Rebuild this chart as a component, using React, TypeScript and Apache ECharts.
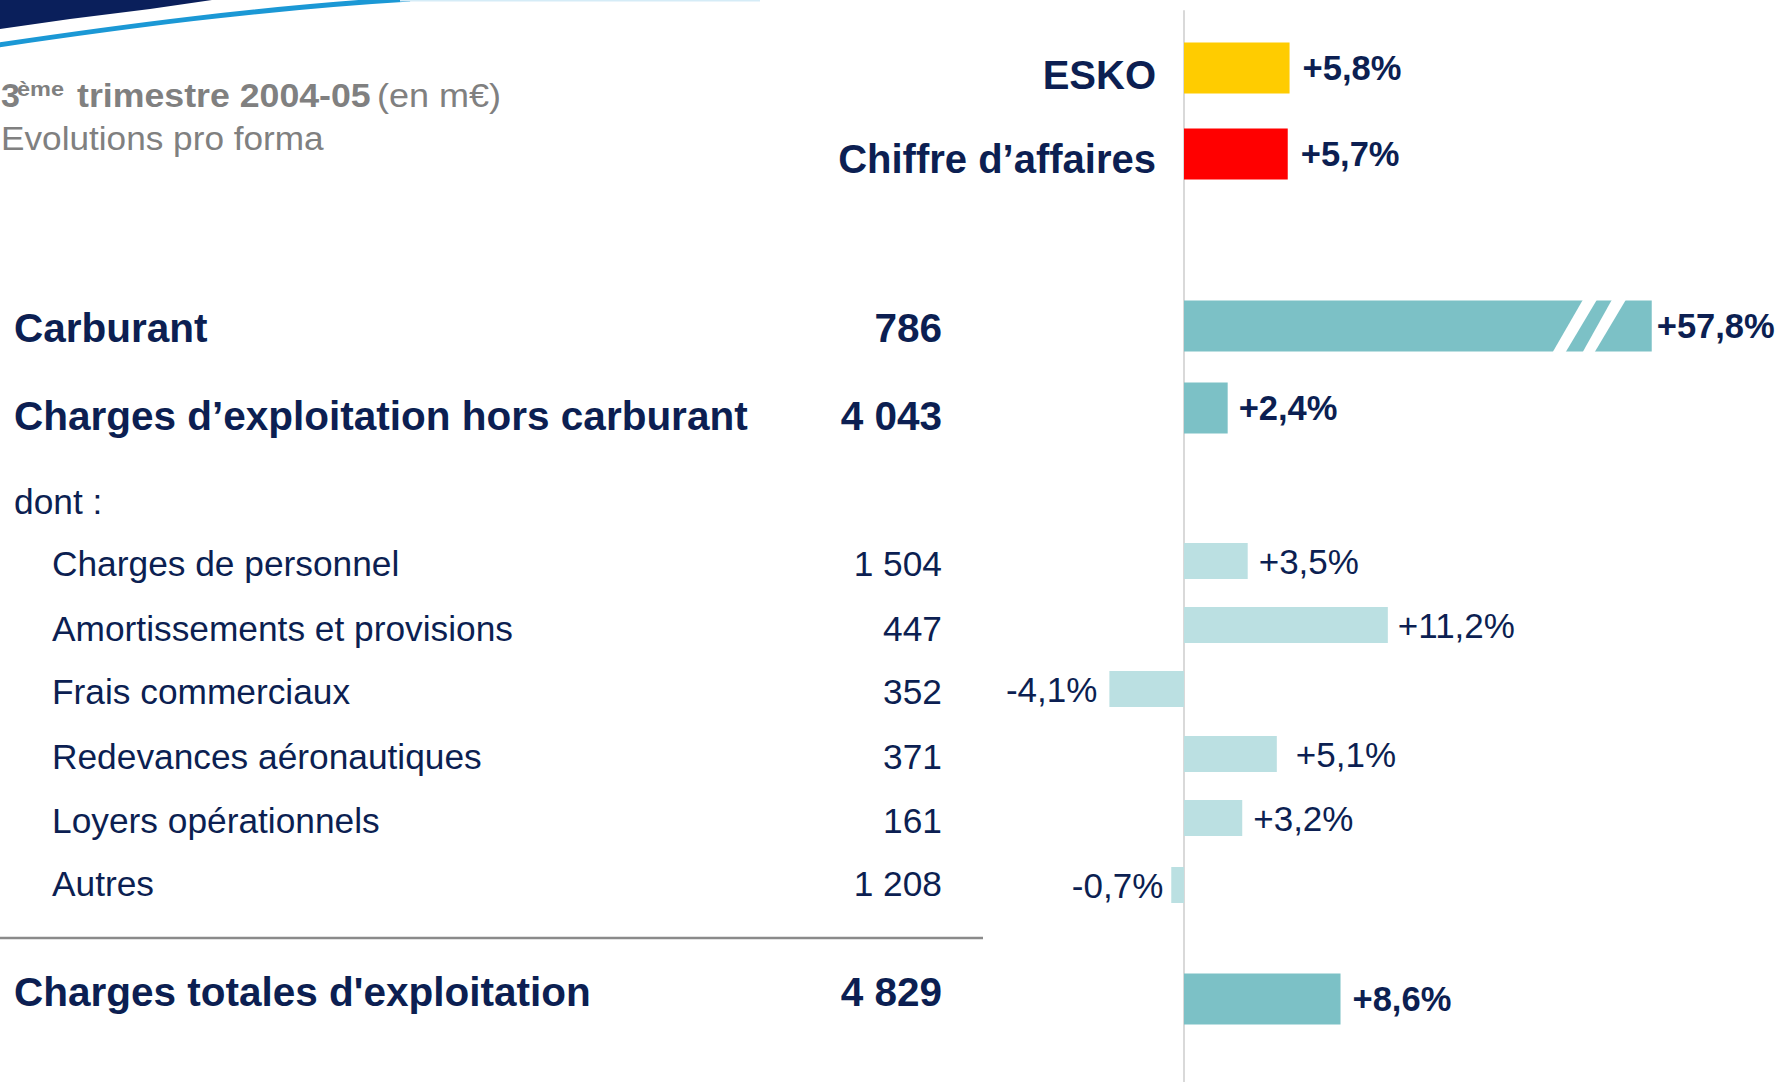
import React, { useEffect, useRef } from "react";
import * as echarts from "echarts";

// ---------- data ----------
const CATEGORIES = [
  "ESKO",
  "Chiffre d’affaires",
  "Carburant",
  "Charges d’exploitation hors carburant",
  "Charges de personnel",
  "Amortissements et provisions",
  "Frais commerciaux",
  "Redevances aéronautiques",
  "Loyers opérationnels",
  "Autres",
  "Charges totales d'exploitation",
];
const AMOUNTS = ["", "", "786", "4 043", "1 504", "447", "352", "371", "161", "1 208", "4 829"];
const CHANGES = [5.8, 5.7, 57.8, 2.4, 3.5, 11.2, -4.1, 5.1, 3.2, -0.7, 8.6];
const SUBHEADING = "dont :";
const TITLE_NUM = "3";
const TITLE_SUP = "ème";
const TITLE_BOLD = "trimestre 2004-05";
const TITLE_UNIT = "(en m€)";
const SUBTITLE = "Evolutions pro forma";
const BREAK_AT = 25.7; // the broken bar is drawn up to this value

// ---------- layout / style ----------
const KIND = ["legend", "legend", "main", "main", "sub", "sub", "sub", "sub", "sub", "sub", "main"];
const ROW_CENTER = [68, 154, 326, 408, 561, 625, 689, 754, 818, 885, 999];
const ROW_HEIGHT = [51, 51, 51, 51, 36, 36, 36, 36, 36, 36, 51];
const TEXT_CENTER = [75, 159, 328, 416, 563, 628, 691, 756, 820, 883, 992];
const LABEL_DIST = [13, 13, 5, 11, 11, 10, 12, 19, 11, 8, 12];
const BAR_COLOR = ["#ffcc00", "#ff0000", "#7cc1c6", "#7cc1c6", "#bbe0e2", "#bbe0e2", "#bbe0e2", "#bbe0e2", "#bbe0e2", "#bbe0e2", "#7cc1c6"];
const NAVY = "#0c1f52";
const GRAY = "#808080";
const FONT = "'Liberation Sans', Arial, Helvetica, sans-serif";
const X_MIN = -10;
const X_MAX = 30;
const GRID_LEFT = 1002;
const GRID_WIDTH = 728;

const fmt = (v: number) => (v > 0 ? "+" : "") + v.toFixed(1).replace(".", ",") + "%";

export default function App() {
  const ref = useRef<HTMLDivElement>(null);

  useEffect(() => {
    if (!ref.current) return;
    const chart = echarts.init(ref.current, undefined, { renderer: "svg" });

    const grids: any[] = [];
    const xAxes: any[] = [];
    const yAxes: any[] = [];
    const series: any[] = [];

    CATEGORIES.forEach((cat, i) => {
      const h = ROW_HEIGHT[i];
      grids.push({ left: GRID_LEFT, width: GRID_WIDTH, top: ROW_CENTER[i] - h / 2, height: h });
      xAxes.push({ gridIndex: i, type: "value", min: X_MIN, max: X_MAX, show: false });
      yAxes.push({ gridIndex: i, type: "category", data: [cat], show: false });
      const v = CHANGES[i];
      const bold = KIND[i] !== "sub";
      series.push({
        type: "bar",
        xAxisIndex: i,
        yAxisIndex: i,
        barWidth: h,
        silent: true,
        z: 3,
        data: [{ value: Math.min(v, BREAK_AT), itemStyle: { color: BAR_COLOR[i] } }],
        label: {
          show: true,
          position: v >= 0 ? "right" : "left",
          distance: LABEL_DIST[i],
          formatter: () => fmt(v),
          color: NAVY,
          fontFamily: FONT,
          fontSize: bold ? 34.5 : 35,
          fontWeight: bold ? "bold" : "normal",
        },
      });
    });

    // background grid carrying the vertical zero line
    const bg = CATEGORIES.length;
    grids.push({ left: GRID_LEFT, width: GRID_WIDTH, top: 11, height: 1071 });
    xAxes.push({ gridIndex: bg, type: "value", min: X_MIN, max: X_MAX, show: false });
    yAxes.push({
      gridIndex: bg,
      type: "category",
      data: [""],
      axisLine: { show: true, onZero: true, lineStyle: { color: "#d9d9d9", width: 2 } },
      axisTick: { show: false },
      axisLabel: { show: false },
      splitLine: { show: false },
    });

    const graphic: any[] = [];
    // top-left decoration
    graphic.push({
      type: "polygon",
      shape: { points: [[0, 0], [212, 0], [150, 9], [70, 19], [0, 29]] },
      style: { fill: "#0a1f5b" },
    });
    graphic.push({
      type: "bezierCurve",
      shape: { x1: -2, y1: 45, cpx1: 120, cpy1: 27, cpx2: 260, cpy2: 8, x2: 410, y2: -1 },
      style: { stroke: "#1b98d5", lineWidth: 5, fill: null },
    });
    graphic.push({
      type: "line",
      shape: { x1: 400, y1: 0.5, x2: 760, y2: 0.5 },
      style: { stroke: "#d5ecf7", lineWidth: 2 },
    });

    // header (the original lettering is slightly stretched horizontally)
    const hdr = { fill: GRAY, fontFamily: FONT, verticalAlign: "middle" };
    graphic.push({ type: "text", x: 1, y: 95, style: { ...hdr, text: TITLE_NUM, fontSize: 34, fontWeight: "bold" } });
    graphic.push({ type: "text", x: 17, y: 89, scaleX: 1.12, style: { ...hdr, text: TITLE_SUP, fontSize: 21, fontWeight: "bold" } });
    graphic.push({ type: "text", x: 77, y: 95, scaleX: 1.05, style: { ...hdr, text: TITLE_BOLD, fontSize: 34, fontWeight: "bold" } });
    graphic.push({ type: "text", x: 377, y: 95, scaleX: 1.06, style: { ...hdr, text: TITLE_UNIT, fontSize: 34 } });
    graphic.push({ type: "text", x: 1, y: 138, scaleX: 1.035, style: { ...hdr, text: SUBTITLE, fontSize: 34 } });

    // row names and amounts
    CATEGORIES.forEach((cat, i) => {
      const k = KIND[i];
      const base = { fill: NAVY, fontFamily: FONT, verticalAlign: "middle" };
      if (k === "legend") {
        graphic.push({ type: "text", x: 1156, y: TEXT_CENTER[i], style: { ...base, text: cat, fontSize: 40, fontWeight: "bold", align: "right" } });
      } else {
        const bold = k === "main";
        const fs = bold ? 40.5 : 35.3;
        graphic.push({ type: "text", x: bold ? 14 : 52, y: TEXT_CENTER[i], style: { ...base, text: cat, fontSize: fs, fontWeight: bold ? "bold" : "normal", align: "left" } });
        graphic.push({ type: "text", x: 942, y: TEXT_CENTER[i], style: { ...base, text: AMOUNTS[i], fontSize: fs, fontWeight: bold ? "bold" : "normal", align: "right" } });
      }
    });
    graphic.push({ type: "text", x: 14, y: 501, style: { fill: NAVY, fontFamily: FONT, fontSize: 35.3, verticalAlign: "middle", text: SUBHEADING } });

    // divider above the total
    graphic.push({ type: "line", shape: { x1: 0, y1: 938, x2: 983, y2: 938 }, style: { stroke: "#8a8a8a", lineWidth: 2.5 } });

    // break marks on the capped bar
    const bi = CHANGES.findIndex((v) => v > BREAK_AT);
    if (bi >= 0) {
      const pxPer = GRID_WIDTH / (X_MAX - X_MIN);
      const E = GRID_LEFT + (BREAK_AT - X_MIN) * pxPer;
      const top = ROW_CENTER[bi] - ROW_HEIGHT[bi] / 2 - 0.5;
      const bot = ROW_CENTER[bi] + ROW_HEIGHT[bi] / 2 + 0.5;
      graphic.push({ type: "polygon", z: 100, shape: { points: [[E - 99, bot], [E - 86, bot], [E - 55, top], [E - 69, top]] }, style: { fill: "#ffffff" } });
      graphic.push({ type: "polygon", z: 100, shape: { points: [[E - 69, bot], [E - 57, bot], [E - 26, top], [E - 40, top]] }, style: { fill: "#ffffff" } });
    }

    chart.setOption({
      animation: false,
      backgroundColor: "#ffffff",
      grid: grids,
      xAxis: xAxes,
      yAxis: yAxes,
      series,
      graphic,
    });

    return () => chart.dispose();
  }, []);

  return (
    <div
      ref={ref}
      style={{ position: "absolute", left: 0, top: 0, width: 1781, height: 1082, background: "#fff" }}
    />
  );
}
